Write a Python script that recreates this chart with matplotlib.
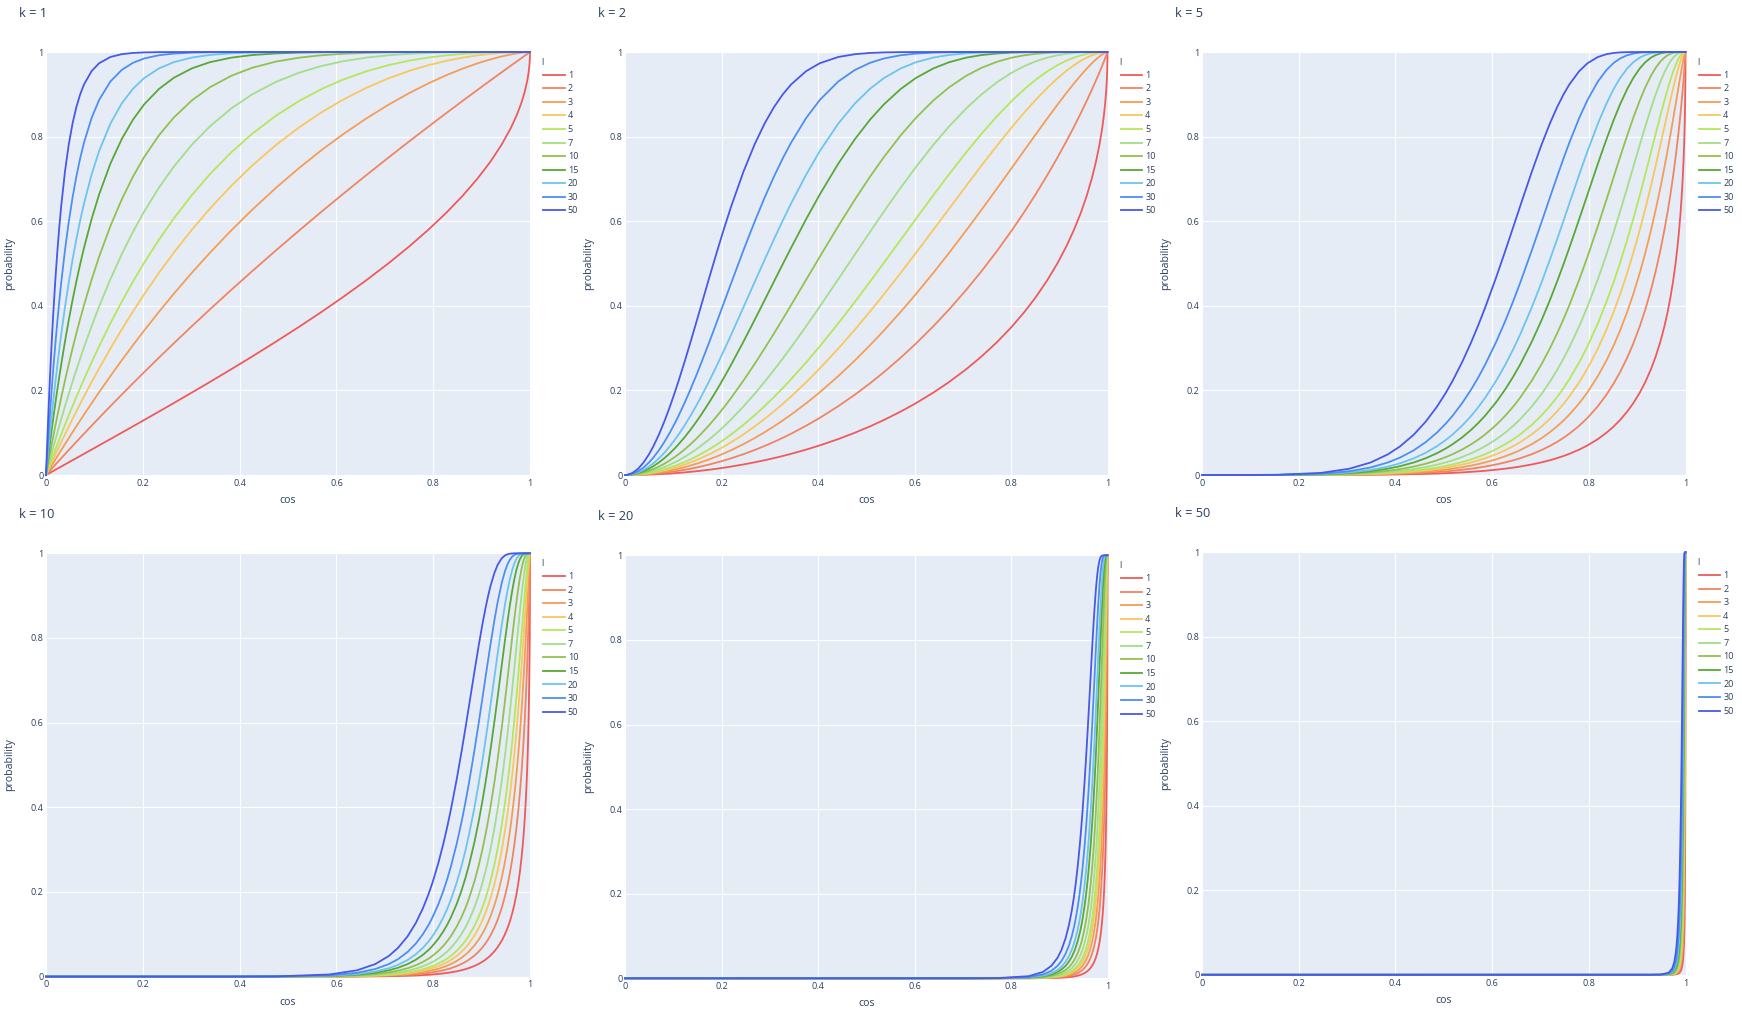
import matplotlib
matplotlib.use("Agg")
import matplotlib.pyplot as plt
from matplotlib.lines import Line2D

# ---------------- data ----------------
k_values = [1, 2, 5, 10, 20, 50]
l_values = [1, 2, 3, 4, 5, 7, 10, 15, 20, 30, 50]
tick_values = [0, 0.2, 0.4, 0.6, 0.8, 1]
tick_labels = ["0", "0.2", "0.4", "0.6", "0.8", "1"]

# cos positions at which the curves were read, one list per panel (k)
cos_k1 = [0, 0.0000016, 0.0000157, 0.000157, 0.000471, 0.000942, 0.001571, 0.002199, 0.003142, 0.004241,
          0.005498, 0.006754, 0.007854, 0.009739, 0.011781, 0.013666, 0.015707, 0.019634, 0.02356, 0.027486,
          0.031411, 0.03926, 0.047106, 0.05495, 0.062791, 0.070627, 0.078459, 0.094108, 0.109734, 0.133121,
          0.156434, 0.179661, 0.202787, 0.233445, 0.263873, 0.301538, 0.338738, 0.382683, 0.425779, 0.474856,
          0.522498, 0.568562, 0.612907, 0.661312, 0.707107, 0.750111, 0.790155, 0.827081, 0.860742, 0.891007,
          0.917755, 0.940881, 0.960294, 0.97237, 0.982287, 0.988887, 0.993961, 0.996917, 0.99889, 0.999507,
          0.999877, 0.999969, 1]
cos_k2 = [0, 0.001571, 0.004967, 0.015707, 0.027204, 0.038467, 0.049653, 0.05874, 0.07019, 0.081531,
          0.092796, 0.102822, 0.110844, 0.12337, 0.135615, 0.145991, 0.156434, 0.174719, 0.191198, 0.206305,
          0.220322, 0.245817, 0.268726, 0.289658, 0.309017, 0.327084, 0.344063, 0.375341, 0.403733, 0.442119,
          0.476553, 0.507846, 0.536563, 0.571527, 0.60332, 0.639345, 0.671901, 0.707107, 0.738737, 0.771752,
          0.801202, 0.827507, 0.851059, 0.874964, 0.896019, 0.914508, 0.930686, 0.944755, 0.956896, 0.967266,
          0.975996, 0.98321, 0.989012, 0.992495, 0.995274, 0.997077, 0.998434, 0.999209, 0.999718, 0.999875,
          0.999969, 0.999992, 1]
cos_k5 = [0, 0.098948, 0.156434, 0.246389, 0.305183, 0.34876, 0.384408, 0.409615, 0.437879, 0.462909,
          0.485481, 0.503995, 0.5179, 0.538223, 0.556677, 0.571365, 0.585377, 0.608275, 0.627368, 0.643761,
          0.658131, 0.682449, 0.702575, 0.71973, 0.734648, 0.747849, 0.759671, 0.780116, 0.797336, 0.818852,
          0.836632, 0.851692, 0.864674, 0.87951, 0.892145, 0.905573, 0.916959, 0.928533, 0.938317, 0.947957,
          0.956076, 0.962971, 0.968863, 0.974581, 0.979398, 0.983461, 0.986884, 0.989761, 0.992165, 0.994158,
          0.995789, 0.997102, 0.998133, 0.998739, 0.999214, 0.999518, 0.999744, 0.999871, 0.999954, 0.99998,
          0.999995, 0.999999, 1]
cos_k10 = [0, 0.384408, 0.476553, 0.585377, 0.642658, 0.680209, 0.708424, 0.727179, 0.747153, 0.763989,
           0.778538, 0.790045, 0.798461, 0.810403, 0.820908, 0.829044, 0.836632, 0.848672, 0.858387, 0.866505,
           0.873449, 0.884868, 0.894001, 0.901569, 0.907998, 0.913561, 0.918461, 0.926722, 0.933484, 0.941689,
           0.948266, 0.953694, 0.958273, 0.963386, 0.96762, 0.972071, 0.975743, 0.979398, 0.982426, 0.985353,
           0.987772, 0.989793, 0.991494, 0.993121, 0.994473, 0.995598, 0.996535, 0.997313, 0.997957, 0.998486,
           0.998915, 0.999257, 0.999524, 0.999679, 0.999801, 0.999878, 0.999936, 0.999968, 0.999989, 0.999995,
           0.999999, 1.0, 1]
cos_k20 = [0, 0.708424, 0.772852, 0.836632, 0.865962, 0.883835, 0.896603, 0.904798, 0.913276, 0.920227,
           0.926093, 0.930645, 0.93392, 0.938505, 0.942458, 0.945481, 0.948266, 0.952617, 0.956068, 0.95891,
           0.961313, 0.965204, 0.968263, 0.970761, 0.97286, 0.974657, 0.976222, 0.978831, 0.980938, 0.983456,
           0.985445, 0.987067, 0.988419, 0.989914, 0.991144, 0.99241, 0.993449, 0.994473, 0.995312, 0.996117,
           0.996776, 0.997322, 0.997778, 0.998211, 0.998569, 0.998865, 0.999109, 0.999312, 0.999478, 0.999615,
           0.999725, 0.999812, 0.99988, 0.999919, 0.99995, 0.999969, 0.999984, 0.999992, 0.999997, 0.999999,
           1.0, 1.0, 1]
cos_k50 = [0, 0.928952, 0.948266, 0.965285, 0.972459, 0.976634, 0.979529, 0.981347, 0.983194, 0.984685,
           0.985925, 0.986876, 0.987554, 0.988494, 0.989298, 0.989907, 0.990464, 0.991326, 0.992004, 0.992556,
           0.993021, 0.993766, 0.994346, 0.994816, 0.995208, 0.995542, 0.99583, 0.996309, 0.996692, 0.997146,
           0.997502, 0.99779, 0.998028, 0.99829, 0.998505, 0.998724, 0.998903, 0.999078, 0.99922, 0.999357,
           0.999467, 0.999559, 0.999635, 0.999707, 0.999766, 0.999815, 0.999855, 0.999888, 0.999916, 0.999938,
           0.999956, 0.99997, 0.999981, 0.999987, 0.999992, 0.999995, 0.999997, 0.999999, 1.0, 1.0,
           1.0, 1.0, 1]

# probability values read at those positions (same levels in every panel), one list per l
prob_l1 = [0, 0.000001, 0.00001, 0.0001, 0.0003, 0.0006, 0.001, 0.0014, 0.002, 0.0027,
           0.0035, 0.0043, 0.005, 0.0062, 0.0075, 0.0087, 0.01, 0.0125, 0.015, 0.0175,
           0.02, 0.025, 0.03, 0.035, 0.04, 0.045, 0.05, 0.06, 0.07, 0.085,
           0.1, 0.115, 0.13, 0.15, 0.17, 0.195, 0.22, 0.25, 0.28, 0.315,
           0.35, 0.385, 0.42, 0.46, 0.5, 0.54, 0.58, 0.62, 0.66, 0.7,
           0.74, 0.78, 0.82, 0.85, 0.88, 0.905, 0.93, 0.95, 0.97, 0.98,
           0.99, 0.995, 1]
prob_l2 = [0, 0.000002, 0.00002, 0.0002, 0.0006, 0.0012, 0.001999, 0.002798, 0.003996, 0.005393,
           0.006988, 0.008582, 0.009975, 0.012362, 0.014944, 0.017324, 0.0199, 0.024844, 0.029775, 0.034694,
           0.0396, 0.049375, 0.0591, 0.068775, 0.0784, 0.087975, 0.0975, 0.1164, 0.1351, 0.162775,
           0.19, 0.216775, 0.2431, 0.2775, 0.3111, 0.351975, 0.3916, 0.4375, 0.4816, 0.530775,
           0.5775, 0.621775, 0.6636, 0.7084, 0.75, 0.7884, 0.8236, 0.8556, 0.8844, 0.91,
           0.9324, 0.9516, 0.9676, 0.9775, 0.9856, 0.990975, 0.9951, 0.9975, 0.9991, 0.9996,
           0.9999, 0.999975, 1]
prob_l3 = [0, 0.000003, 0.00003, 0.0003, 0.0009, 0.001799, 0.002997, 0.004194, 0.005988, 0.008078,
           0.010463, 0.012845, 0.014925, 0.018485, 0.022332, 0.025874, 0.029701, 0.037033, 0.044328, 0.051587,
           0.058808, 0.073141, 0.087327, 0.101368, 0.115264, 0.129016, 0.142625, 0.169416, 0.195643, 0.233939,
           0.271, 0.306846, 0.341497, 0.385875, 0.428213, 0.47834, 0.525448, 0.578125, 0.626752, 0.678581,
           0.725375, 0.767392, 0.804888, 0.842536, 0.875, 0.902664, 0.925912, 0.945128, 0.960696, 0.973,
           0.982424, 0.989352, 0.994168, 0.996625, 0.998272, 0.999143, 0.999657, 0.999875, 0.999973, 0.999992,
           0.999999, 1, 1]
prob_l4 = [0, 0.000004, 0.00004, 0.0004, 0.0012, 0.002398, 0.003994, 0.005588, 0.007976, 0.010756,
           0.013927, 0.017089, 0.01985, 0.02457, 0.029664, 0.034349, 0.039404, 0.04907, 0.058663, 0.068184,
           0.077632, 0.096312, 0.114707, 0.13282, 0.150653, 0.16821, 0.185494, 0.219251, 0.251948, 0.299054,
           0.3439, 0.386559, 0.427102, 0.477994, 0.525417, 0.580064, 0.629849, 0.683594, 0.731261, 0.779828,
           0.821494, 0.856946, 0.886835, 0.914969, 0.9375, 0.955225, 0.968883, 0.979149, 0.986637, 0.9919,
           0.99543, 0.997657, 0.99895, 0.999494, 0.999793, 0.999919, 0.999976, 0.999994, 0.999999] + [1] * 4
prob_l5 = [0, 0.000005, 0.00005, 0.0005, 0.0015, 0.002996, 0.00499, 0.006981, 0.00996, 0.013427,
           0.017378, 0.021316, 0.024751, 0.030618, 0.036942, 0.04275, 0.04901, 0.060957, 0.072783, 0.084491,
           0.096079, 0.118904, 0.141266, 0.163171, 0.184627, 0.205641, 0.226219, 0.266096, 0.304312, 0.358635,
           0.40951, 0.457104, 0.501579, 0.556295, 0.606096, 0.661951, 0.711282, 0.762695, 0.806508, 0.849182,
           0.883971, 0.912022, 0.934364, 0.954084, 0.96875, 0.979404, 0.986931, 0.992077, 0.995456, 0.99757,
           0.998812, 0.999485, 0.999811, 0.999924, 0.999975, 0.999992, 0.999998] + [1] * 6
prob_l7 = [0, 0.000007, 0.00007, 0.0007, 0.0021, 0.004193, 0.006979, 0.009759, 0.013916, 0.018748,
           0.024244, 0.029715, 0.034479, 0.042601, 0.051333, 0.059333, 0.067935, 0.084286, 0.100391, 0.116253,
           0.131874, 0.162408, 0.192017, 0.220724, 0.248553, 0.275525, 0.301663, 0.351522, 0.398299, 0.463033,
           0.521703, 0.574776, 0.622745, 0.679423, 0.72864, 0.780936, 0.824344, 0.866516, 0.899694, 0.929233,
           0.950978, 0.966724, 0.97792, 0.986611, 0.992188, 0.995642, 0.997695, 0.998856, 0.999475, 0.999781,
           0.99992, 0.999975, 0.999994] + [1] * 10
prob_l10 = [0, 0.00001, 0.0001, 0.0009996, 0.002996, 0.005984, 0.009955, 0.013912, 0.019821, 0.026674,
            0.034454, 0.042178, 0.048889, 0.060299, 0.072519, 0.083672, 0.095618, 0.118198, 0.140269, 0.161843,
            0.182927, 0.22367, 0.262576, 0.299718, 0.335167, 0.368994, 0.401263, 0.461385, 0.516018, 0.588651,
            0.651322, 0.705264, 0.751577, 0.803126, 0.84484, 0.885723, 0.916642, 0.943687, 0.962561, 0.977254,
            0.986537, 0.99226, 0.995692, 0.997892, 0.999023, 0.999576, 0.999829, 0.999937, 0.999979, 0.999994,
            0.999999] + [1] * 12
prob_l15 = [0, 0.000015, 0.00015, 0.001499, 0.00449, 0.008962, 0.014896, 0.020795, 0.029584, 0.039743,
            0.051232, 0.062594, 0.07243, 0.08907, 0.106782, 0.122845, 0.139942, 0.171951, 0.202843, 0.232659,
            0.261431, 0.315979, 0.366749, 0.413984, 0.457913, 0.498754, 0.536709, 0.604708, 0.663299, 0.736175,
            0.794109, 0.839989, 0.876181, 0.912646, 0.938882, 0.961369, 0.975933, 0.986637, 0.992756, 0.99657,
            0.998438, 0.999319, 0.999717, 0.999903, 0.99997, 0.999991, 0.999998] + [1] * 16
prob_l20 = [0, 0.00002, 0.0002, 0.001998, 0.00598, 0.011932, 0.019811, 0.027631, 0.039249, 0.052637,
            0.06772, 0.082576, 0.095388, 0.116961, 0.139779, 0.160343, 0.182093, 0.222425, 0.260863, 0.297492,
            0.332392, 0.397312, 0.456206, 0.509605, 0.557997, 0.601831, 0.641514, 0.709894, 0.765761, 0.830792,
            0.878423, 0.913131, 0.938286, 0.961241, 0.975925, 0.986941, 0.993051, 0.996829, 0.998598, 0.999483,
            0.999819, 0.99994, 0.999981, 0.999996, 0.999999] + [1] * 18
prob_l30 = [0, 0.00003, 0.0003, 0.002996, 0.00896, 0.017844, 0.029569, 0.041159, 0.058292, 0.077907,
            0.099841, 0.121271, 0.139614, 0.170207, 0.202162, 0.230598, 0.2603, 0.314333, 0.364541, 0.411188,
            0.454516, 0.532116, 0.598993, 0.656585, 0.706142, 0.748753, 0.785361, 0.843744, 0.886633, 0.930396,
            0.957609, 0.974397, 0.984669, 0.992369, 0.996265, 0.998508, 0.999421, 0.999821, 0.999948, 0.999988,
            0.999998] + [1] * 22
prob_l50 = [0, 0.00005, 0.0005, 0.004988, 0.01489, 0.029563, 0.048794, 0.067652, 0.095253, 0.126444,
            0.160799, 0.193833, 0.221684, 0.267261, 0.313683, 0.353966, 0.394994, 0.466839, 0.530304, 0.586355,
            0.635831, 0.718012, 0.781935, 0.831591, 0.870114, 0.899961, 0.923055, 0.954669, 0.973445, 0.988223,
            0.994846, 0.997776, 0.999054, 0.999704, 0.99991, 0.999981, 0.999996, 0.999999] + [1] * 25

cos_by_k = {1: cos_k1, 2: cos_k2, 5: cos_k5, 10: cos_k10, 20: cos_k20, 50: cos_k50}
prob_by_l = {1: prob_l1, 2: prob_l2, 3: prob_l3, 4: prob_l4, 5: prob_l5, 7: prob_l7,
             10: prob_l10, 15: prob_l15, 20: prob_l20, 30: prob_l30, 50: prob_l50}

# ---------------- style ----------------
colors = {1: '#EF5A5A', 2: '#F2845F', 3: '#F69C55', 4: '#F8C75E', 5: '#B6E65A', 7: '#A3DE88',
          10: '#92C14D', 15: '#58A836', 20: '#6CC4EF', 30: '#4C8FF3', 50: '#4759E8'}
TXT = '#2a3f5f'
BG = '#E5ECF6'
W, H = 1742, 1016

plt.rcParams['font.family'] = ['Open Sans', 'DejaVu Sans']

fig = plt.figure(figsize=(W / 100, H / 100), dpi=100)
fig.patch.set_facecolor('white')

# panel boxes in pixels: left, top, right, bottom
boxes = {1: (46, 52, 530, 475), 2: (625, 52, 1107.5, 475), 5: (1202, 52, 1685.5, 475),
         10: (46, 553.3, 530, 976.6), 20: (625, 555.3, 1107.5, 978.3), 50: (1202, 552.3, 1685.5, 974.8)}


def fx(x):
    return x / W


def fy(y):
    return 1 - y / H


for k in k_values:
    left, top, right, bottom = boxes[k]
    wpx, hpx = right - left, bottom - top
    ax = fig.add_axes([fx(left), fy(bottom), wpx / W, hpx / H])
    ax.set_facecolor(BG)
    for s in ax.spines.values():
        s.set_visible(False)
    ax.set_xlim(0, 1)
    ax.set_ylim(0, 1)
    ax.set_xticks(tick_values)
    ax.set_xticklabels(tick_labels)
    ax.set_yticks(tick_values)
    ax.set_yticklabels(tick_labels)
    ax.tick_params(axis='both', length=0, labelsize=6.5, labelcolor=TXT)
    ax.tick_params(axis='x', pad=2.8)
    ax.tick_params(axis='y', pad=1.7)
    ax.grid(True, color='white', linewidth=0.8)
    ax.set_axisbelow(True)

    for l in l_values:
        ax.plot(cos_by_k[k], prob_by_l[l], color=colors[l], lw=1.3,
                solid_joinstyle='round', clip_on=False)

    # axis titles
    ax.text(0.5, -25.5 / hpx, 'cos', transform=ax.transAxes, ha='center', va='center',
            fontsize=7.6, color=TXT)
    ax.text(-36 / wpx, 0.5, 'probability', transform=ax.transAxes, ha='center', va='center',
            rotation=90, fontsize=7.6, color=TXT)

    # panel title
    fig.text(fx(left - 27), fy(top - 35), f'k = {k}', ha='left', va='baseline',
             fontsize=9.2, color=TXT)

    # legend
    fig.text(fx(right + 11.5), fy(top + 13), 'l', ha='left', va='baseline',
             fontsize=6.5, color=TXT)
    for i, l in enumerate(l_values):
        yl = top + 22.7 + 13.56 * i
        fig.add_artist(Line2D([fx(right + 13.3), fx(right + 34.7)], [fy(yl), fy(yl)],
                              transform=fig.transFigure, color=colors[l], lw=1.3))
        fig.text(fx(right + 37.7), fy(yl + 3.1), str(l), ha='left', va='baseline',
                 fontsize=6.5, color=TXT)

fig.savefig('out.png', dpi=100, facecolor='white')
